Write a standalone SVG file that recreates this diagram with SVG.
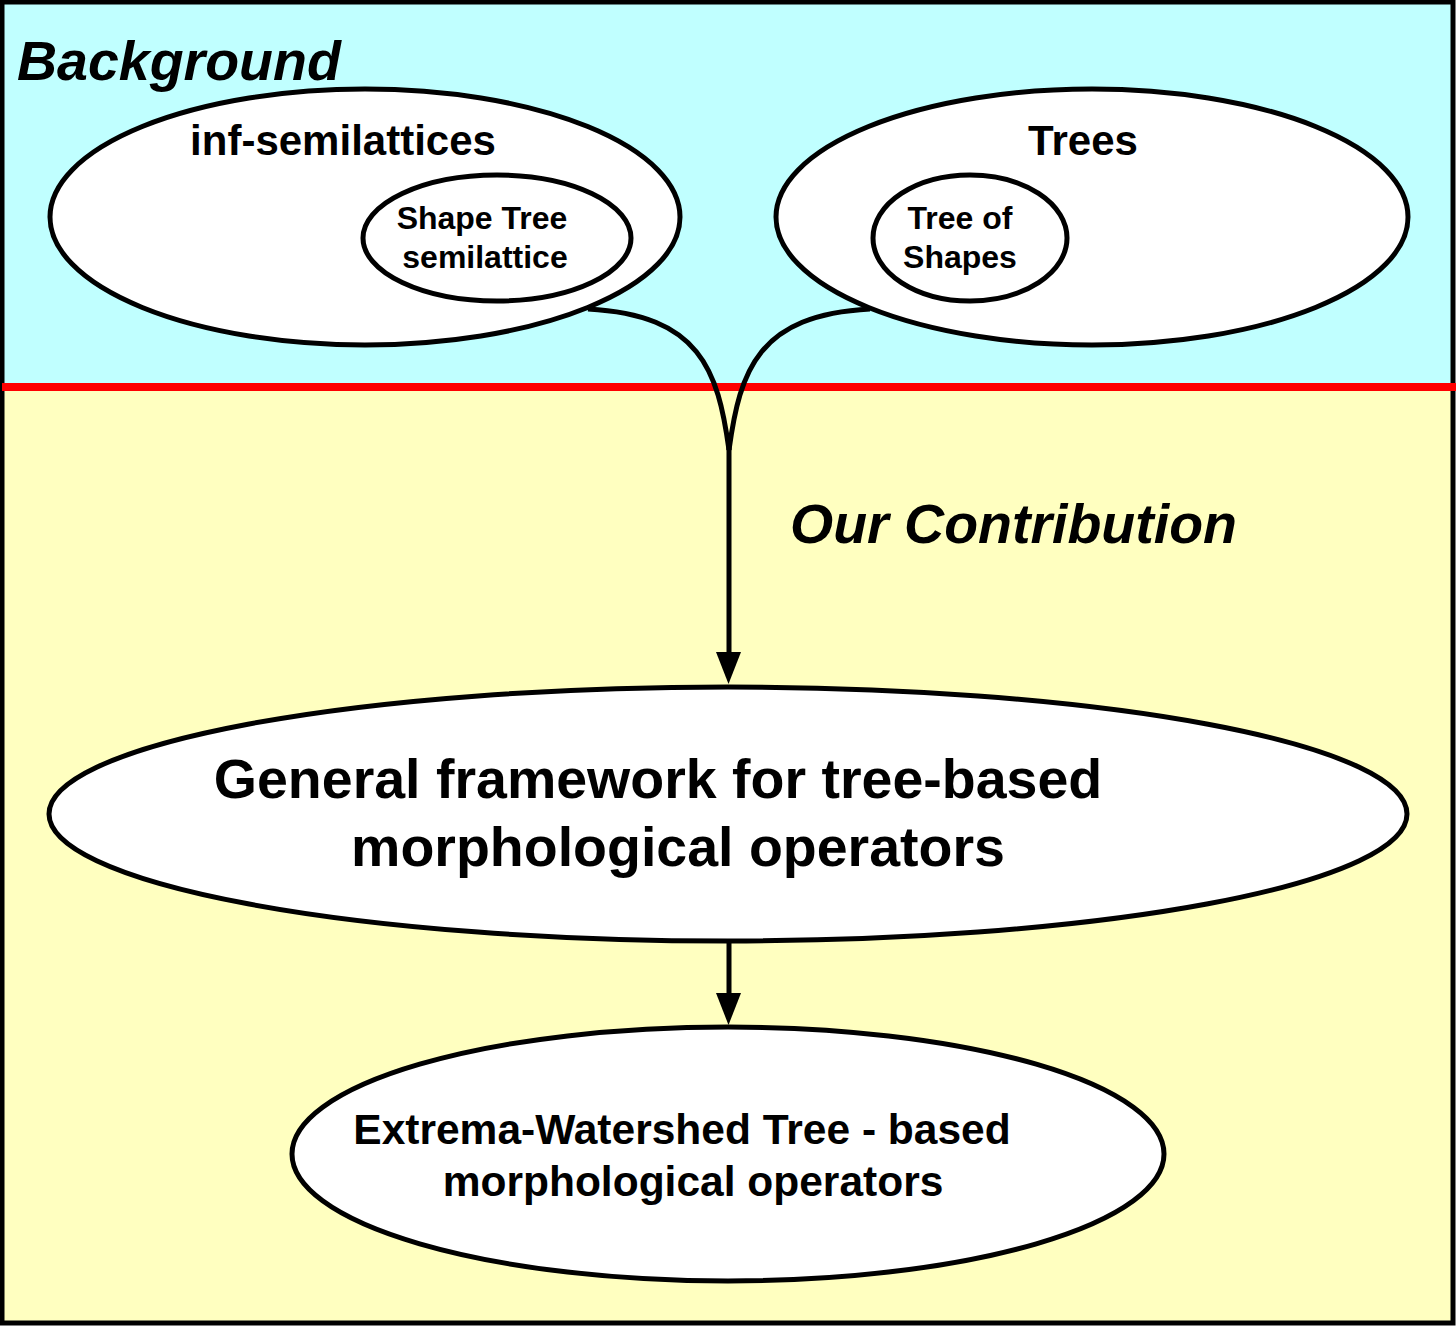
<svg xmlns="http://www.w3.org/2000/svg" width="1456" height="1326" viewBox="0 0 1456 1326">
<style>
.node{fill:#fff;stroke:#000;stroke-width:5}
.t{font-family:"Liberation Sans",Arial,sans-serif;font-weight:bold;fill:#000;text-anchor:middle}
.conn{fill:none;stroke:#000;stroke-width:5}
</style>
<rect x="2" y="2" width="1451" height="385" fill="#C0FFFF"/>
<rect x="2" y="387" width="1451" height="936" fill="#FFFFC0"/>
<rect x="2" y="2" width="1451" height="1321" fill="none" stroke="#000" stroke-width="5"/>
<line x1="2" y1="387" x2="1456" y2="387" stroke="#FF0000" stroke-width="8"/>
<text x="17" y="80" class="t" style="font-size:55.5px;font-style:italic;text-anchor:start">Background</text>
<text x="790" y="543" class="t" style="font-size:55.5px;font-style:italic;text-anchor:start">Our Contribution</text>
<g id="inf-semilattices">
<ellipse cx="365" cy="217" rx="315" ry="128" class="node"/>
<text x="343" y="155" class="t" style="font-size:42px">inf-semilattices</text>
</g>
<g id="shape-tree-semilattice">
<ellipse cx="497" cy="238" rx="134" ry="63" class="node"/>
<text x="482" y="229" class="t" style="font-size:32px">Shape Tree</text>
<text x="485" y="268" class="t" style="font-size:32px">semilattice</text>
</g>
<g id="trees">
<ellipse cx="1092" cy="217" rx="316" ry="128" class="node"/>
<text x="1083" y="155" class="t" style="font-size:42px">Trees</text>
</g>
<g id="tree-of-shapes">
<ellipse cx="970" cy="238" rx="97" ry="63" class="node"/>
<text x="960" y="229" class="t" style="font-size:32px">Tree of</text>
<text x="960" y="268" class="t" style="font-size:32px">Shapes</text>
</g>
<g id="general-framework">
<ellipse cx="728" cy="814" rx="679" ry="127" class="node"/>
<text x="658" y="798" class="t" style="font-size:55.5px">General framework for tree-based</text>
<text x="678" y="866" class="t" style="font-size:55.5px">morphological operators</text>
</g>
<g id="extrema-watershed">
<ellipse cx="728" cy="1154" rx="436" ry="127" class="node"/>
<text x="682" y="1144" class="t" style="font-size:42.5px">Extrema-Watershed Tree - based</text>
<text x="693" y="1196" class="t" style="font-size:42.5px">morphological operators</text>
</g>
<g id="connectors">
<path class="conn" d="M588 309 C700 315 718 370 729 450"/>
<path class="conn" d="M870 309 C758 315 740 370 729 450"/>
<line class="conn" x1="729" y1="445" x2="729" y2="656"/>
<polygon points="716,652 741,652 728.5,684" fill="#000"/>
<line class="conn" x1="729" y1="942" x2="729" y2="996"/>
<polygon points="716,993 741,993 728.5,1025" fill="#000"/>
</g>
</svg>
